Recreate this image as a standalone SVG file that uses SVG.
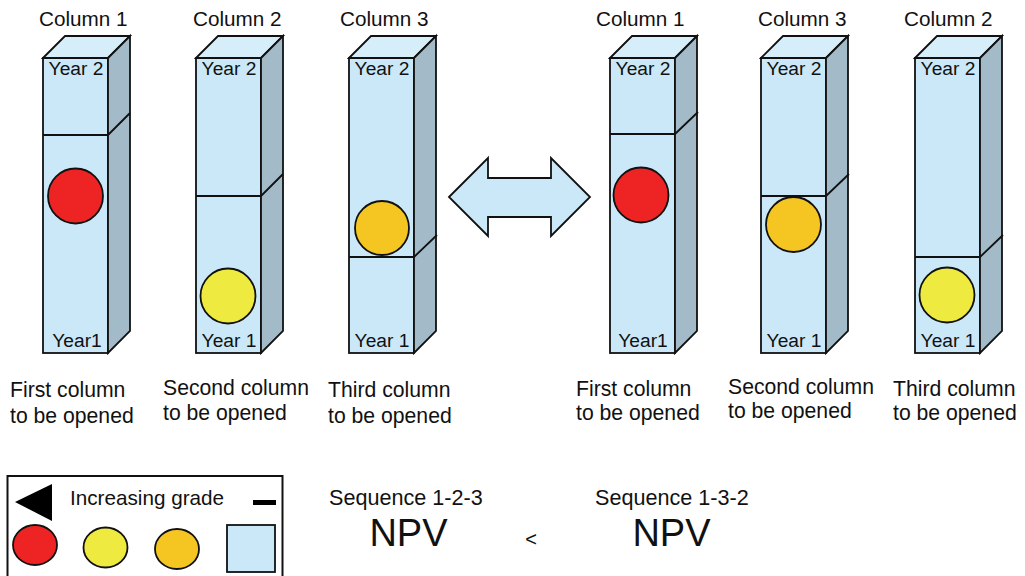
<svg xmlns="http://www.w3.org/2000/svg" width="1025" height="576" viewBox="0 0 1025 576">
<style>
text{font-family:"Liberation Sans",Arial,sans-serif;fill:#111}
.front{fill:#CBE8F8;stroke:#111;stroke-width:1.8}
.top{fill:#D6EEFA;stroke:#111;stroke-width:1.8;stroke-linejoin:miter}
.side{fill:#A3BAC8;stroke:#111;stroke-width:1.8}
.div{stroke:#111;stroke-width:1.8;fill:none}
.red{fill:#EE2424;stroke:#111;stroke-width:1.8}
.yel{fill:#EEEA40;stroke:#111;stroke-width:1.8}
.org{fill:#F5C522;stroke:#111;stroke-width:1.8}
.hdr{font-size:20.7px}
.yr{font-size:19.2px;text-anchor:middle}
.lbl{font-size:21.2px}
</style>
<defs>
<g id="col">
<rect class="front" x="0" y="58" width="65" height="295"/>
<polygon class="top" points="0,58 22,36 87,36 65,58"/>
<polygon class="side" points="65,58 87,36 87,331 65,353"/>
</g>
</defs>

<g id="colL1">
<use href="#col" x="43"/>
<path class="div" d="M43 135H108L130 113"/>
<circle class="red" cx="75.5" cy="196" r="27.5"/>
<text class="hdr" x="39" y="26">Column 1</text>
<text class="yr" x="76" y="75">Year 2</text>
<text class="yr" x="77" y="347">Year1</text>
<text class="lbl" x="10" y="397">First column</text>
<text class="lbl" x="10" y="423">to be opened</text>
</g>

<g id="colL2">
<use href="#col" x="196"/>
<path class="div" d="M196 196H261L283 174"/>
<circle class="yel" cx="228" cy="296" r="27.5"/>
<text class="hdr" x="193" y="26">Column 2</text>
<text class="yr" x="229" y="75">Year 2</text>
<text class="yr" x="229" y="347">Year 1</text>
<text class="lbl" x="163" y="395">Second column</text>
<text class="lbl" x="163" y="420">to be opened</text>
</g>

<g id="colL3">
<use href="#col" x="349"/>
<path class="div" d="M349 257H414L437 235"/>
<circle class="org" cx="382" cy="228" r="27"/>
<text class="hdr" x="340" y="26">Column 3</text>
<text class="yr" x="382" y="75">Year 2</text>
<text class="yr" x="382" y="347">Year 1</text>
<text class="lbl" x="328" y="397">Third column</text>
<text class="lbl" x="328" y="423">to be opened</text>
</g>

<g id="swap">
<polygon fill="#CBE8F8" stroke="#111" stroke-width="1.8" points="449,197 488,158 488,178 551,178 551,158 590,197 551,236 551,217 488,217 488,236"/>
</g>

<g id="colR1">
<use href="#col" x="610"/>
<path class="div" d="M610 134H675L698 112"/>
<circle class="red" cx="641" cy="195" r="27.5"/>
<text class="hdr" x="596" y="26">Column 1</text>
<text class="yr" x="643" y="75">Year 2</text>
<text class="yr" x="643" y="347">Year1</text>
<text class="lbl" x="576" y="396">First column</text>
<text class="lbl" x="576" y="420">to be opened</text>
</g>

<g id="colR3">
<use href="#col" x="761"/>
<path class="div" d="M761 196H826L849 174"/>
<circle class="org" cx="793.5" cy="224.5" r="27.5"/>
<text class="hdr" x="758" y="26">Column 3</text>
<text class="yr" x="794" y="75">Year 2</text>
<text class="yr" x="794" y="347">Year 1</text>
<text class="lbl" x="728" y="394">Second column</text>
<text class="lbl" x="728" y="418">to be opened</text>
</g>

<g id="colR2">
<use href="#col" x="915"/>
<path class="div" d="M915 257H980L1003 235"/>
<circle class="yel" cx="947" cy="295" r="27.5"/>
<text class="hdr" x="904" y="26">Column 2</text>
<text class="yr" x="948" y="75">Year 2</text>
<text class="yr" x="948" y="347">Year 1</text>
<text class="lbl" x="893" y="396">Third column</text>
<text class="lbl" x="893" y="420">to be opened</text>
</g>

<g id="legend">
<rect x="7.5" y="476" width="275" height="120" fill="#fff" stroke="#111" stroke-width="2"/>
<polygon points="15,502 52,484 52,521" fill="#000"/>
<text x="70" y="505" style="font-size:20.7px">Increasing grade</text>
<rect x="253" y="500" width="23" height="5" fill="#000"/>
<ellipse class="red" cx="35" cy="545" rx="22" ry="20"/>
<ellipse class="yel" cx="105.5" cy="547.5" rx="22" ry="20"/>
<ellipse class="org" cx="177" cy="549" rx="22" ry="20"/>
<rect x="227" y="525" width="48" height="47" fill="#CBE8F8" stroke="#111" stroke-width="1.8"/>
</g>

<g id="compare">
<text x="329" y="505" style="font-size:21.6px">Sequence 1-2-3</text>
<text x="408.5" y="546" style="font-size:38px;text-anchor:middle">NPV</text>
<text x="531" y="546" style="font-size:20px;text-anchor:middle">&lt;</text>
<text x="595" y="505" style="font-size:21.6px">Sequence 1-3-2</text>
<text x="671.5" y="546" style="font-size:38px;text-anchor:middle">NPV</text>
</g>
</svg>
